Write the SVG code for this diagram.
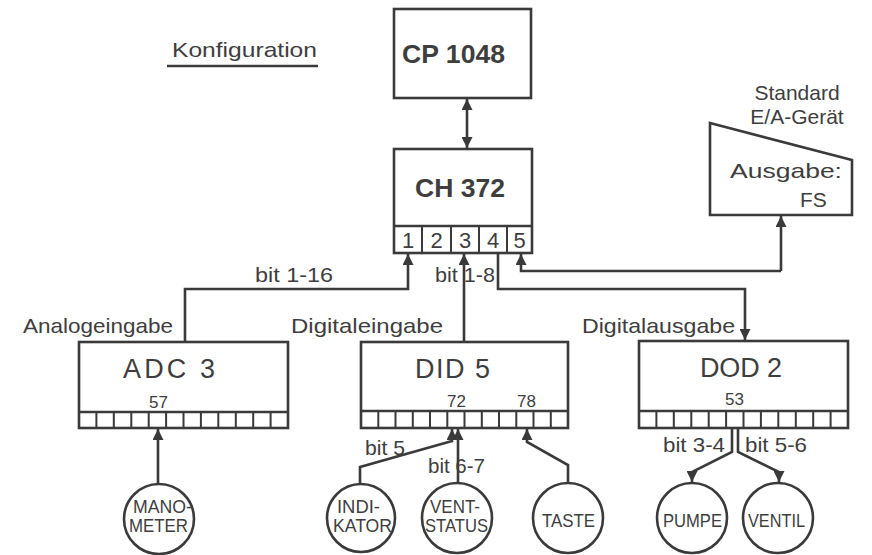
<svg xmlns="http://www.w3.org/2000/svg" width="872" height="555" viewBox="0 0 872 555">
<defs>
<marker id="ah" markerUnits="userSpaceOnUse" markerWidth="11" markerHeight="11" refX="10" refY="5" orient="auto-start-reverse" viewBox="0 0 10 10">
<path d="M0,0 L10,5 L0,10 z" fill="#3a3a3a"/>
</marker>
<style>
.b{fill:none;stroke:#3a3a3a;stroke-width:2.6}
.c{fill:none;stroke:#3a3a3a;stroke-width:2.6;stroke-linejoin:miter}
.cell{fill:none;stroke:#3a3a3a;stroke-width:2}
.t{font-family:"Liberation Sans",Arial,sans-serif;fill:#3e3e3e}
.big{font-size:26px;font-weight:bold}
.mid{font-size:27px}
.lbl{font-size:21px}
.num{font-size:17px}
.port{font-size:22px}
.cir{font-size:18px}
</style>
</defs>
<rect width="872" height="555" fill="#ffffff"/>

<g id="title">
<text class="t lbl" x="172" y="57" textLength="145" lengthAdjust="spacingAndGlyphs">Konfiguration</text>
<line x1="167" y1="66" x2="318" y2="66" class="b" stroke-width="2"/>
</g>

<g id="cp1048">
<rect x="394" y="9" width="137" height="89" class="b"/>
<text class="t big" x="402" y="63" textLength="103" lengthAdjust="spacingAndGlyphs">CP 1048</text>
</g>

<g id="ch372">
<rect x="394" y="149" width="138" height="104" class="b"/>
<line x1="394" y1="226" x2="532" y2="226" class="b"/>
<path d="M422,226V253 M451,226V253 M479,226V253 M507,226V253" class="cell"/>
<text class="t big" x="415" y="197" textLength="90" lengthAdjust="spacingAndGlyphs">CH 372</text>
<g class="t port" text-anchor="middle">
<text x="408" y="248">1</text>
<text x="436.5" y="248">2</text>
<text x="465" y="248">3</text>
<text x="493" y="248">4</text>
<text x="519.5" y="248">5</text>
</g>
</g>

<g id="stdea">
<text class="t lbl" x="797" y="100" text-anchor="middle">Standard</text>
<text class="t lbl" x="797" y="124" text-anchor="middle">E/A-Gerät</text>
<polygon points="710,123 852,160 852,215 710,215" class="b"/>
<text class="t lbl" x="730" y="178" font-size="22" textLength="112" lengthAdjust="spacingAndGlyphs">Ausgabe:</text>
<text class="t lbl" x="800" y="207" font-size="22">FS</text>
</g>

<g id="adc3">
<text class="t lbl" x="23" y="333" textLength="150" lengthAdjust="spacingAndGlyphs">Analogeingabe</text>
<rect x="79" y="342" width="209" height="86" class="b"/>
<line x1="79" y1="412" x2="288" y2="412" class="b"/>
<path d="M96.4,412V428 M113.8,412V428 M131.3,412V428 M148.7,412V428 M166.1,412V428 M183.5,412V428 M200.9,412V428 M218.3,412V428 M235.8,412V428 M253.2,412V428 M270.6,412V428" class="cell"/>
<text class="t mid" x="123" y="378" textLength="92" lengthAdjust="spacing">ADC 3</text>
<text class="t num" x="149" y="408">57</text>
</g>

<g id="did5">
<text class="t lbl" x="291" y="333" textLength="152" lengthAdjust="spacingAndGlyphs">Digitaleingabe</text>
<rect x="361" y="342" width="207" height="86" class="b"/>
<line x1="361" y1="411" x2="568" y2="411" class="b"/>
<path d="M378.3,411V428 M395.5,411V428 M412.8,411V428 M430,411V428 M447.3,411V428 M464.5,411V428 M481.8,411V428 M499,411V428 M516.3,411V428 M533.5,411V428 M550.8,411V428" class="cell"/>
<text class="t mid" x="415" y="378" textLength="75" lengthAdjust="spacing">DID 5</text>
<text class="t num" x="447" y="407">72</text>
<text class="t num" x="517" y="407">78</text>
</g>

<g id="dod2">
<text class="t lbl" x="582" y="333" textLength="153" lengthAdjust="spacingAndGlyphs">Digitalausgabe</text>
<rect x="639" y="341" width="209" height="87" class="b"/>
<line x1="639" y1="411" x2="848" y2="411" class="b"/>
<path d="M656.4,411V428 M673.8,411V428 M691.3,411V428 M708.7,411V428 M726.1,411V428 M743.5,411V428 M760.9,411V428 M778.3,411V428 M795.8,411V428 M813.2,411V428 M830.6,411V428" class="cell"/>
<text class="t mid" x="700" y="377" textLength="82" lengthAdjust="spacing">DOD 2</text>
<text class="t num" x="725" y="405">53</text>
</g>

<g id="manometer">
<circle cx="159" cy="519" r="35" class="b" stroke-width="2"/>
<text class="t cir" x="133" y="513" textLength="59" lengthAdjust="spacingAndGlyphs">MANO-</text>
<text class="t cir" x="129" y="532" textLength="59" lengthAdjust="spacingAndGlyphs">METER</text>
</g>
<g id="indikator">
<circle cx="361" cy="518" r="34" class="b" stroke-width="2"/>
<text class="t cir" x="337" y="513" textLength="43" lengthAdjust="spacingAndGlyphs">INDI-</text>
<text class="t cir" x="333" y="532" textLength="59" lengthAdjust="spacingAndGlyphs">KATOR</text>
</g>
<g id="ventstatus">
<circle cx="457" cy="518" r="35" class="b" stroke-width="2"/>
<text class="t cir" x="430" y="513" textLength="50" lengthAdjust="spacingAndGlyphs">VENT-</text>
<text class="t cir" x="425" y="532" textLength="63" lengthAdjust="spacingAndGlyphs">STATUS</text>
</g>
<g id="taste">
<circle cx="568" cy="518" r="35" class="b" stroke-width="2"/>
<text class="t cir" x="542" y="527" textLength="53" lengthAdjust="spacingAndGlyphs">TASTE</text>
</g>
<g id="pumpe">
<circle cx="692" cy="518" r="35" class="b" stroke-width="2"/>
<text class="t cir" x="663" y="527" textLength="59" lengthAdjust="spacingAndGlyphs">PUMPE</text>
</g>
<g id="ventil">
<circle cx="778" cy="518" r="35" class="b" stroke-width="2"/>
<text class="t cir" x="748" y="527" textLength="57" lengthAdjust="spacingAndGlyphs">VENTIL</text>
</g>

<g id="connectors">
<line x1="467" y1="99" x2="467" y2="148" class="c" marker-start="url(#ah)" marker-end="url(#ah)"/>
<polyline points="185,342 185,289 408,289 408,254" class="c" marker-end="url(#ah)"/>
<line x1="464" y1="342" x2="464" y2="254" class="c" marker-end="url(#ah)"/>
<polyline points="498,253 498,289 745,289 745,340" class="c" marker-end="url(#ah)"/>
<polyline points="781,271 521,271 521,254" class="c" marker-end="url(#ah)"/>
<line x1="781" y1="271" x2="781" y2="216" class="c" marker-end="url(#ah)"/>
<line x1="158" y1="484" x2="158" y2="429" class="c" marker-end="url(#ah)"/>
<polyline points="360,484 360,467 452,441 452,429" class="c" marker-end="url(#ah)"/>
<line x1="458" y1="483" x2="458" y2="429" class="c" marker-end="url(#ah)"/>
<polyline points="568,483 568,465 527,442 527,429" class="c" marker-end="url(#ah)"/>
<polyline points="732,428 732,452 692,472 692,482" class="c" marker-end="url(#ah)"/>
<polyline points="738,428 738,452 779,472 779,482" class="c" marker-end="url(#ah)"/>
<g class="t lbl">
<text x="255" y="282" textLength="78" lengthAdjust="spacingAndGlyphs">bit 1-16</text>
<text x="435" y="282" textLength="60" lengthAdjust="spacingAndGlyphs">bit 1-8</text>
<text x="365" y="455" textLength="40" lengthAdjust="spacingAndGlyphs">bit 5</text>
<text x="428" y="473" textLength="57" lengthAdjust="spacingAndGlyphs">bit 6-7</text>
<text x="663" y="452" textLength="62" lengthAdjust="spacingAndGlyphs">bit 3-4</text>
<text x="745" y="452" textLength="62" lengthAdjust="spacingAndGlyphs">bit 5-6</text>
</g>
</g>
</svg>
